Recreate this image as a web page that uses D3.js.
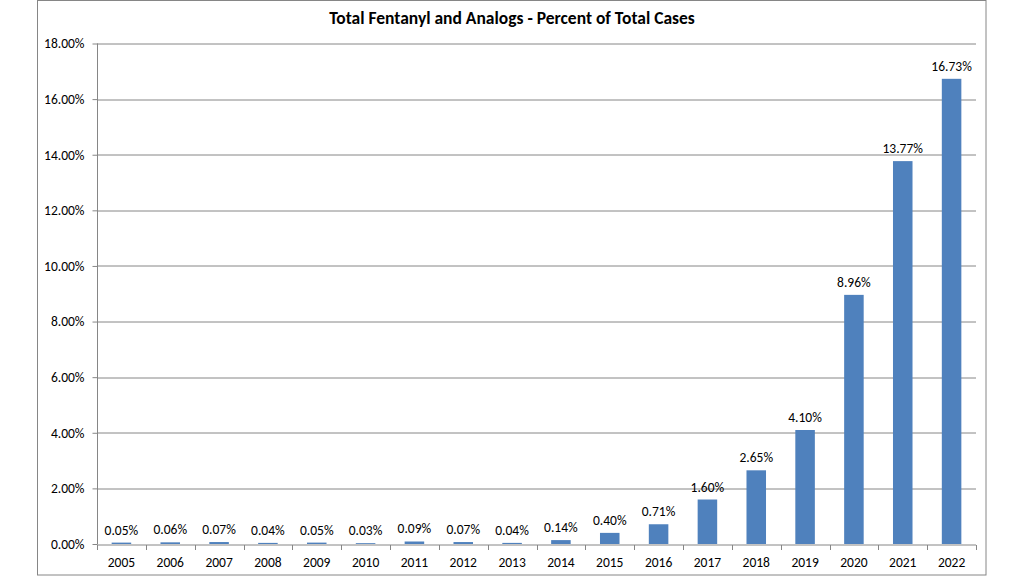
<!DOCTYPE html>
<meta charset="utf-8">
<title>Total Fentanyl and Analogs</title>
<style>
  body { margin: 0; background: #fff; }
  text { font-family: Carlito, Lato, "Liberation Sans", sans-serif; fill: #000; }
</style>
<body>
<div id="chart"></div>
<script src="https://d3js.org/d3.v7.min.js"></script>
<script>

// data
var years = ["2005", "2006", "2007", "2008", "2009", "2010", "2011", "2012", "2013",
             "2014", "2015", "2016", "2017", "2018", "2019", "2020", "2021", "2022"];
var percents = [0.05, 0.06, 0.07, 0.04, 0.05, 0.03, 0.09, 0.07, 0.04,
                0.14, 0.40, 0.71, 1.60, 2.65, 4.10, 8.96, 13.77, 16.73];
var yTicks = [0, 2, 4, 6, 8, 10, 12, 14, 16, 18];

var W = 1024, H = 576;
var margin = {top: 43.5, right: 48, bottom: 32, left: 97};
var width = 976 - margin.left,
    height = 544 - margin.top;
var fontSize = "13.5px";

var svg = d3.select("#chart").append("svg")
    .attr("width", W)
    .attr("height", H);

// outer chart frame
svg.append("rect")
    .attr("x", 37.5).attr("y", 0.5)
    .attr("width", 986 - 37.5).attr("height", 575 - 0.5)
    .attr("fill", "none")
    .attr("stroke", "#868686");

svg.append("text")
    .attr("x", 512).attr("y", 24)
    .attr("text-anchor", "middle")
    .style("font-size", "17.5px")
    .style("font-weight", "bold")
    .text("Total Fentanyl and Analogs - Percent of Total Cases");

var g = svg.append("g")
    .attr("transform", "translate(" + margin.left + "," + margin.top + ")");

var x = d3.scaleBand()
    .domain(years)
    .range([0, width])
    .paddingInner(0.6)
    .paddingOuter(0.3);

var y = d3.scaleLinear()
    .domain([0, 18])
    .range([height, 0]);

// gridlines
g.selectAll(".grid")
  .data(yTicks.slice(1))
  .enter().append("line")
    .attr("x1", 0).attr("x2", width)
    .attr("y1", function(d) { return Math.round(y(d)) + 0.5; })
    .attr("y2", function(d) { return Math.round(y(d)) + 0.5; })
    .attr("stroke", "#868686");

// y axis
var yAxis = g.append("g")
    .attr("transform", "translate(0.5,0)")
    .call(d3.axisLeft(y).tickValues(yTicks).tickSize(5).tickPadding(8)
      .tickFormat(function(d) { return d.toFixed(2) + "%"; }));
yAxis.selectAll("text").style("font-size", fontSize).attr("fill", "#000");
yAxis.selectAll("line, path").attr("stroke", "#868686");
yAxis.select(".domain").attr("d", "M0," + height + "V0");

// bars
g.selectAll(".bar")
  .data(percents)
  .enter().append("rect")
    .attr("x", function(d, i) { return x(years[i]); })
    .attr("y", function(d) { return y(d); })
    .attr("width", x.bandwidth())
    .attr("height", function(d) { return height - y(d); })
    .attr("fill", "#4f81bd");

// x axis with ticks at category boundaries
var step = x.step();
var xAxis = g.append("g")
    .attr("transform", "translate(0," + (Math.round(height) + 0.5) + ")");
xAxis.append("line")
    .attr("x1", 0).attr("x2", width)
    .attr("stroke", "#868686");
xAxis.selectAll(".tick")
  .data(d3.range(years.length + 1))
  .enter().append("line")
    .attr("x1", function(i) { return Math.round(i * step) + 0.5; })
    .attr("x2", function(i) { return Math.round(i * step) + 0.5; })
    .attr("y1", 0).attr("y2", 5)
    .attr("stroke", "#868686");
xAxis.selectAll(".lbl")
  .data(years)
  .enter().append("text")
    .attr("x", function(d) { return x(d) + x.bandwidth() / 2; })
    .attr("y", 22)
    .attr("text-anchor", "middle")
    .style("font-size", fontSize)
    .text(function(d) { return d; });

// value labels
g.selectAll(".val")
  .data(percents)
  .enter().append("text")
    .attr("x", function(d, i) { return x(years[i]) + x.bandwidth() / 2; })
    .attr("y", function(d) { return y(d) - 8; })
    .attr("text-anchor", "middle")
    .style("font-size", fontSize)
    .text(function(d) { return d.toFixed(2) + "%"; });

</script>
</body>
